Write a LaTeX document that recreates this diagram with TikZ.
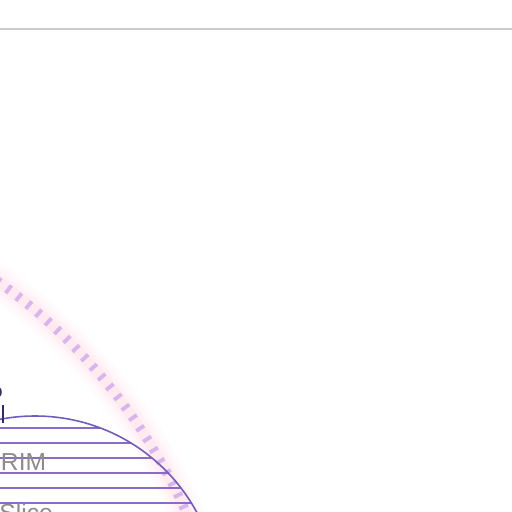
\documentclass[tikz,border=0pt]{standalone}
\usepackage{fontspec}
\setmainfont{Liberation Sans}
\usepackage{tikz}

\definecolor{rimline}{HTML}{8A6CC8}
\definecolor{rimarc}{HTML}{6E5CBE}
\definecolor{dashlav}{HTML}{D9B5F0}
\definecolor{glowpink}{HTML}{FFB8CC}
\definecolor{labelgray}{HTML}{8C8C8C}
\definecolor{ticknavy}{HTML}{2F2C70}
\definecolor{topgray}{HTML}{CCCCCC}

\begin{document}
\begin{tikzpicture}[
		x=0.02cm, y=0.02cm,
		every node/.style={inner sep=0pt, outer sep=0pt},
		line cap=butt,
		line join=round
		]
		% =========================
		% Frame and parameters
		% =========================
		\useasboundingbox (0,0) rectangle (512,512);
		\def\Cx{35}
		\def\Cy{-88}
		\def\R{184}
		\def\Gx{-325.5}
		\def\Gy{-225.2}
		\def\Gr{558.8}
		
		% --------------------------------
		% Top rule
		% --------------------------------
		\draw[topgray, line width=1.7pt] (0,483) -- (512,483);
		
		% --------------------------------
		% Glow band behind the dashed arc
		% --------------------------------
		\foreach \w/\op in {34/0.05, 26/0.07, 18/0.09, 11/0.12}
		{
			\draw[glowpink, opacity=\op, line width=\w*0.569pt]
			({\Gx+\Gr*cos(64)},{\Gy+\Gr*sin(64)})
			arc[start angle=64, end angle=14, radius=\Gr];
		}
		
		% --------------------------------
		% Dashed arc
		% --------------------------------
		\draw[dashlav, line width=5.4pt, dash pattern=on 2.2pt off 5.1pt]
		({\Gx+\Gr*cos(64)},{\Gy+\Gr*sin(64)})
		arc[start angle=64, end angle=14, radius=\Gr];
		
		% --------------------------------
		% Slice lines, clipped to the disc
		% --------------------------------
		\begin{scope}
			\clip (\Cx,\Cy) circle[radius=\R];
			\foreach \y in {84.3,69.3,54.3,39.3,24.3,9.3}
			{
				\draw[rimline, line width=1.2pt] (0,\y) -- (260,\y);
			}
		\end{scope}
		
		% --------------------------------
		% Disc outline
		% --------------------------------
		\draw[rimarc, line width=0.9pt] (\Cx,\Cy) circle[radius=\R];
		
		% --------------------------------
		% Tick and labels
		% --------------------------------
		\draw[ticknavy, line width=1.1pt] (3,107) -- (3,89);
		\node[anchor=base east, text=ticknavy, font=\fontsize{10.5}{12}\selectfont]
		(tick) at (2.6,114) {o};
		\node[anchor=base west, text=labelgray, font=\fontsize{14}{16}\selectfont]
		(rim) at (1,41.3) {RIM};
		\node[anchor=base west, text=labelgray, font=\fontsize{14}{16}\selectfont]
		(slice) at (-0.5,-9.5) {Slice};
		
	\end{tikzpicture}
\end{document}
